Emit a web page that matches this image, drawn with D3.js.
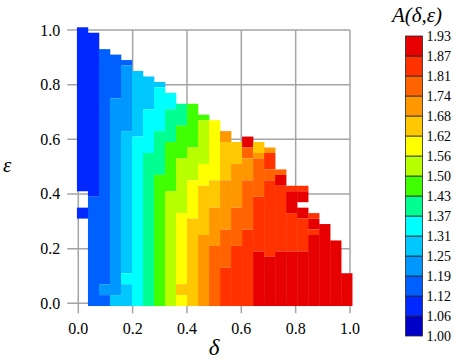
<!DOCTYPE html>
<html>
<head>
<meta charset="utf-8">
<script src="https://cdn.jsdelivr.net/npm/d3@7"></script>
<style>
  body { margin: 0; background: #fff; }
</style>
</head>
<body>
<script>
// colour bar tick labels (bin edges of A)
var levels = [1.00, 1.06, 1.12, 1.19, 1.25, 1.31, 1.37, 1.43, 1.50, 1.56, 1.62, 1.68, 1.74, 1.81, 1.87, 1.93];
var colors = ['#0000c8', '#0028ff', '#0060ff', '#0098ff', '#00c8ff', '#00ffff', '#00ff90',
              '#40ff00', '#b8ff00', '#ffff00', '#ffc800', '#ff9800', '#ff6400', '#ff3200', '#e60000'];
var axisTicks = [0.0, 0.2, 0.4, 0.6, 0.8, 1.0];

// columns in delta (left edge of each cell column)
var deltas = [0.00, 0.04, 0.08, 0.12, 0.16, 0.20, 0.24, 0.28, 0.32, 0.36, 0.40, 0.44, 0.48,
              0.52, 0.56, 0.60, 0.64, 0.68, 0.72, 0.76, 0.80, 0.84, 0.88, 0.92, 0.96];

// for every delta column: runs of cells [eps top, eps bottom, A]
var columnRuns = [
  [[1.01, 0.41, 1.09], [0.35, 0.31, 1.09]],
  [[0.99, 0.39, 1.09], [0.39, -0.01, 1.15]],
  [[0.93, 0.07, 1.15], [0.07, 0.03, 1.22], [0.03, -0.01, 1.15]],
  [[0.91, 0.75, 1.15], [0.75, 0.03, 1.22], [0.03, -0.01, 1.28]],
  [[0.89, 0.87, 1.15], [0.87, 0.63, 1.22], [0.63, 0.11, 1.28], [0.11, 0.07, 1.34], [0.07, -0.01, 1.28]],
  [[0.85, 0.61, 1.28], [0.61, -0.01, 1.34]],
  [[0.83, 0.71, 1.28], [0.71, 0.55, 1.34], [0.55, -0.01, 1.40]],
  [[0.81, 0.79, 1.28], [0.79, 0.63, 1.34], [0.63, 0.47, 1.40], [0.47, -0.01, 1.46]],
  [[0.77, 0.71, 1.34], [0.71, 0.59, 1.40], [0.59, 0.41, 1.46], [0.41, -0.01, 1.53]],
  [[0.73, 0.65, 1.40], [0.65, 0.53, 1.46], [0.53, 0.33, 1.53], [0.33, 0.07, 1.59], [0.07, 0.03, 1.65], [0.03, -0.01, 1.59]],
  [[0.73, 0.57, 1.46], [0.57, 0.45, 1.53], [0.45, 0.31, 1.59], [0.31, -0.01, 1.65]],
  [[0.69, 0.67, 1.46], [0.67, 0.51, 1.53], [0.51, 0.43, 1.59], [0.43, 0.25, 1.65], [0.25, -0.01, 1.71]],
  [[0.67, 0.45, 1.59], [0.45, 0.35, 1.65], [0.35, 0.21, 1.71], [0.21, -0.01, 1.78]],
  [[0.63, 0.59, 1.71], [0.59, 0.45, 1.65], [0.45, 0.27, 1.71], [0.27, 0.13, 1.78], [0.13, -0.01, 1.84]],
  [[0.59, 0.51, 1.65], [0.51, 0.35, 1.71], [0.35, 0.21, 1.78], [0.21, -0.01, 1.84]],
  [[0.61, 0.57, 1.90], [0.57, 0.53, 1.78], [0.53, 0.45, 1.71], [0.45, 0.27, 1.78], [0.27, -0.01, 1.84]],
  [[0.59, 0.55, 1.65], [0.55, 0.53, 1.71], [0.53, 0.39, 1.78], [0.39, 0.19, 1.84], [0.19, -0.01, 1.90]],
  [[0.57, 0.55, 1.71], [0.55, 0.49, 1.84], [0.49, 0.45, 1.78], [0.45, 0.17, 1.84], [0.17, -0.01, 1.90]],
  [[0.49, 0.47, 1.78], [0.47, 0.43, 1.90], [0.43, 0.19, 1.84], [0.19, -0.01, 1.90]],
  [[0.43, 0.41, 1.84], [0.41, 0.33, 1.90], [0.33, 0.19, 1.84], [0.19, -0.01, 1.90]],
  [[0.43, 0.41, 1.84], [0.41, 0.37, 1.90], [0.35, 0.31, 1.90], [0.31, 0.19, 1.84], [0.19, -0.01, 1.90]],
  [[0.33, 0.31, 1.84], [0.31, 0.27, 1.90], [0.27, 0.25, 1.84], [0.25, -0.01, 1.90]],
  [[0.29, -0.01, 1.90]],
  [[0.23, -0.01, 1.90]],
  [[0.11, -0.01, 1.90]]
];

var w = 463, h = 360;
var plot = {left: 78.3, right: 350, top: 30, bottom: 303.3};
var serif = "'Liberation Serif', 'Times New Roman', Times, 'DejaVu Serif', serif";

var x = d3.scaleLinear().domain([0, 1]).range([plot.left, plot.right]);
var y = d3.scaleLinear().domain([0, 1]).range([plot.bottom, plot.top]);
var col = d3.scaleBand().domain(deltas).range([x(-0.005), x(1.008)]);
var color = d3.scaleThreshold().domain(levels.slice(1, -1)).range(colors);

var svg = d3.select("body").append("svg")
    .attr("width", w)
    .attr("height", h)
    .style("display", "block")
    .attr("font-family", serif);

svg.append("rect").attr("width", w).attr("height", h).attr("fill", "#fff");

// grid lines, running past the frame as ticks
var grid = svg.append("g").attr("stroke", "#a4a4a4").attr("stroke-width", 1.5);
grid.selectAll(".vline").data(axisTicks).enter().append("line")
    .attr("x1", function(d) { return x(d); })
    .attr("x2", function(d) { return x(d); })
    .attr("y1", y(1))
    .attr("y2", y(0) + 10);
grid.selectAll(".hline").data(axisTicks).enter().append("line")
    .attr("y1", function(d) { return y(d); })
    .attr("y2", function(d) { return y(d); })
    .attr("x1", x(0) - 11)
    .attr("x2", x(1));

// heat map cells
var cells = [];
columnRuns.forEach(function(runs, i) {
  runs.forEach(function(r) {
    cells.push({delta: deltas[i], top: r[0], bottom: r[1], value: r[2]});
  });
});
svg.append("g").selectAll("rect").data(cells).enter().append("rect")
    .attr("x", function(d) { return col(d.delta); })
    .attr("width", col.bandwidth() + 0.3)
    .attr("y", function(d) { return y(d.top); })
    .attr("height", function(d) { return y(d.bottom) - y(d.top); })
    .attr("fill", function(d) { return color(d.value); });

// tick labels
svg.append("g").selectAll("text").data(axisTicks).enter().append("text")
    .attr("x", function(d) { return x(d); })
    .attr("y", y(0) + 31)
    .attr("text-anchor", "middle")
    .attr("font-family", serif)
    .attr("font-size", 16)
    .text(function(d) { return d.toFixed(1); });
svg.append("g").selectAll("text").data(axisTicks).enter().append("text")
    .attr("x", x(0) - 18)
    .attr("y", function(d) { return y(d) + 5.5; })
    .attr("text-anchor", "end")
    .attr("font-family", serif)
    .attr("font-size", 16)
    .text(function(d) { return d.toFixed(1); });

// axis titles
svg.append("text")
    .attr("x", x(0.5))
    .attr("y", 355)
    .attr("text-anchor", "middle")
    .attr("font-family", serif)
    .attr("font-size", 23)
    .attr("font-style", "italic")
    .text("δ");
svg.append("text")
    .attr("x", 3)
    .attr("y", 172)
    .attr("font-family", serif)
    .attr("font-size", 21)
    .attr("font-style", "italic")
    .text("ε");

// colour bar
var bar = {x: 405.5, width: 17, top: 36, bottom: 336};
var cy = d3.scaleLinear().domain([0, levels.length - 1]).range([bar.bottom, bar.top]);
var cb = svg.append("g");
cb.selectAll("rect").data(colors).enter().append("rect")
    .attr("x", bar.x)
    .attr("width", bar.width)
    .attr("y", function(d, i) { return cy(i + 1); })
    .attr("height", function(d, i) { return cy(i) - cy(i + 1); })
    .attr("fill", function(d) { return d; })
    .attr("stroke", "#2a2a2a")
    .attr("stroke-width", 0.8);
cb.selectAll("text").data(levels).enter().append("text")
    .attr("x", bar.x + bar.width + 4)
    .attr("y", function(d, i) { return cy(i) + 5; })
    .attr("font-family", serif)
    .attr("font-size", 14)
    .text(function(d) { return d.toFixed(2); });

svg.append("text")
    .attr("x", 392)
    .attr("y", 22)
    .attr("font-family", serif)
    .attr("font-size", 21)
    .attr("font-style", "italic")
    .text("A(δ,ε)");
</script>
</body>
</html>
